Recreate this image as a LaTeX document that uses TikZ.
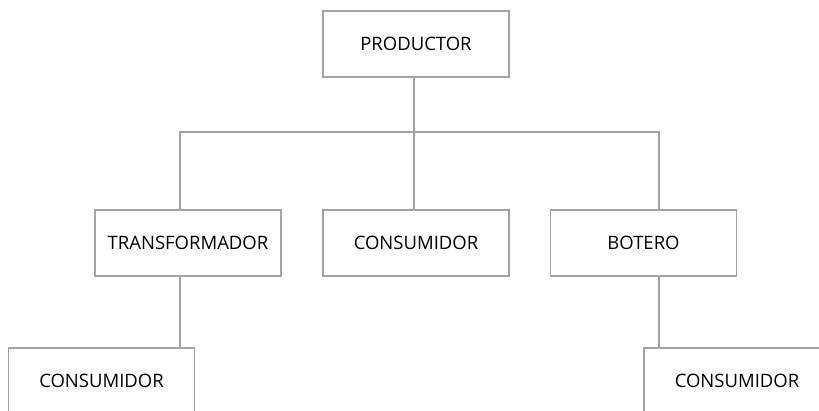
\documentclass[tikz,border=0pt]{standalone}
\usepackage{fontspec}
\setmainfont{Open Sans}
\begin{document}
\begin{tikzpicture}[x=1pt,y=-1pt,
  box/.style={draw=linegray, line width=1.6pt, fill=white, minimum width=186pt, minimum height=66pt, inner sep=0pt, font=\fontsize{18.5}{22}\selectfont},
  conn/.style={draw=linegray, line width=1.6pt}]
\definecolor{linegray}{HTML}{A3A3A3}
\useasboundingbox (0,0) rectangle (819,410);
\clip (0,0) rectangle (819,410);
\node[box] (prod) at (416,44) {PRODUCTOR};
\node[box] (trans) at (188,243) {TRANSFORMADOR};
\node[box] (cons) at (416,243) {CONSUMIDOR};
\node[box] (bot) at (643.5,243) {BOTERO};
\node[box] (c1) at (101.5,381) {CONSUMIDOR};
\node[box] (c2) at (737,381) {CONSUMIDOR};
\coordinate (bus) at (414,132);
\draw[conn] (prod.south -| bus) -- (bus);
\draw[conn] (trans.north -| 180,0) |- (bus);
\draw[conn] (bot.north -| 659,0) |- (bus);
\draw[conn] (cons.north -| bus) -- (bus);
\draw[conn] (trans.south -| 180,0) -- (c1.north -| 180,0);
\draw[conn] (bot.south -| 659,0) -- (c2.north -| 659,0);
\end{tikzpicture}
\end{document}
